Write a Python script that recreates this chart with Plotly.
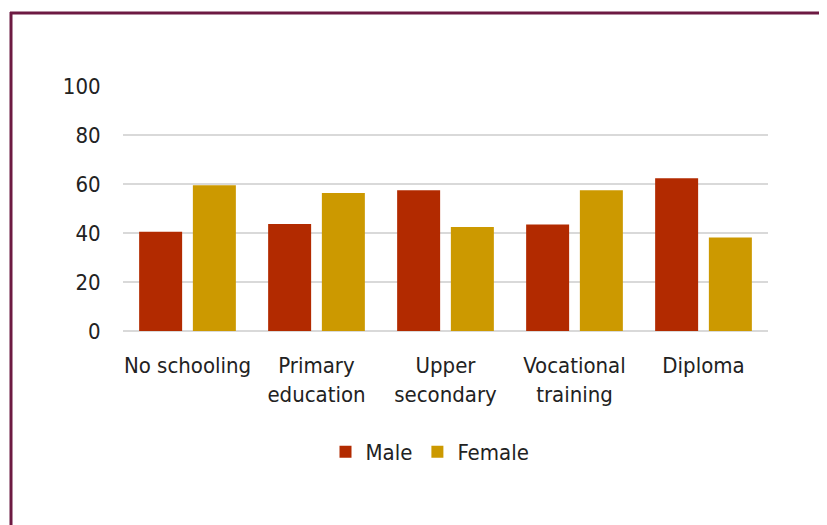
import plotly.graph_objects as go

categories = ["No schooling", "Primary<br>education", "Upper<br>secondary", "Vocational<br>training", "Diploma"]
male = [40.5, 43.7, 57.5, 43.5, 62.3]
female = [59.5, 56.3, 42.5, 57.5, 38.2]
y_ticks = [0, 20, 40, 60, 80, 100]

FONT = "DejaVu Sans Condensed, Liberation Sans Narrow, Arial Narrow, sans-serif"

fig = go.Figure()
fig.add_trace(go.Bar(name="Male", x=categories, y=male, marker=dict(color="#b22a00", line=dict(width=0))))
fig.add_trace(go.Bar(name="Female", x=categories, y=female, marker=dict(color="#cc9900", line=dict(width=0))))

OFF = 8  # page body margin
W, H = 827, 525
L, R, T, B = 123 - OFF, W - (768 - OFF), 86 - OFF, H - (331 - OFF)
pw, ph = W - L - R, H - T - B

def px2x(px):
    return (px - OFF - L) / pw

def py2y(py):
    return (H - B - (py - OFF)) / ph

fig.update_layout(
    width=W, height=H,
    margin=dict(l=L, r=R, t=T, b=B, pad=0),
    paper_bgcolor="white", plot_bgcolor="white",
    barmode="group", bargap=0.167, bargroupgap=0.2,
    font=dict(family=FONT, size=22, color="#222222"),
    showlegend=True,
    legend=dict(orientation="h", x=px2x(430), xanchor="center", y=py2y(452), yanchor="middle",
                font=dict(family=FONT, size=22, color="#222222"), itemwidth=30,
                traceorder="normal"),
    xaxis=dict(showgrid=False, showline=False, ticks="outside", ticklen=15, tickcolor="rgba(0,0,0,0)",
               tickfont=dict(family=FONT, size=22)),
    yaxis=dict(range=[0, 100], tickvals=y_ticks, showgrid=True, gridcolor="#d9d9d9", gridwidth=2,
               zeroline=True, zerolinecolor="#d9d9d9", zerolinewidth=2, showline=False,
               ticks="outside", ticklen=17, tickcolor="rgba(0,0,0,0)",
               tickfont=dict(family=FONT, size=22)),
    shapes=[
        dict(type="line", xref="paper", yref="paper", x0=px2x(11), x1=px2x(11), y0=py2y(12), y1=py2y(540),
             line=dict(color="#6d1a42", width=3)),
        dict(type="line", xref="paper", yref="paper", x0=px2x(10), x1=px2x(840), y0=py2y(13), y1=py2y(13),
             line=dict(color="#6d1a42", width=3)),
    ],
)

fig.write_html("out.html")
